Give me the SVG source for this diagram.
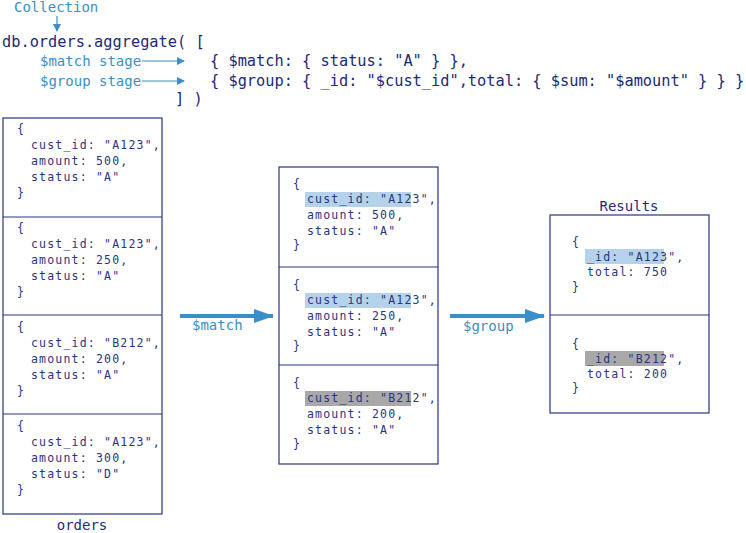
<svg xmlns="http://www.w3.org/2000/svg" width="746" height="533" viewBox="0 0 746 533">
<style>
text{font-family:"DejaVu Sans Mono","Liberation Mono",monospace}
.code{font-size:15.3px;fill:#1c2a78}
.lbl{font-size:14px;fill:#3a8fc8}
.doc{font-size:11.5px;fill:#2a3580;letter-spacing:1.2px}
.ttl{font-size:14px;fill:#1c2a78}
.box{fill:#fff;stroke:#2a3580;stroke-width:1.2}
.div{stroke:#2a3580;stroke-width:1.2}
.hl{fill:#b4d3ea}
.hg{fill:#a8a8a8}
.ar{stroke:#3a8fc8;stroke-width:1.2;fill:none}
.big{stroke:#3a8fc8;stroke-width:4;fill:none}
</style>
<defs>
<marker id="sa" markerWidth="8" markerHeight="8" refX="7" refY="4" orient="auto" markerUnits="userSpaceOnUse"><path d="M0,0 L8,4 L0,8 Z" fill="#3a8fc8"/></marker>
<marker id="ba" markerWidth="20" markerHeight="14" refX="19" refY="7" orient="auto" markerUnits="userSpaceOnUse"><path d="M0,0 L20,7 L0,14 Z" fill="#3a8fc8"/></marker>
</defs>
<g id="code">
<text class="lbl" x="14" y="12">Collection</text>
<text class="code" x="2" y="47">db.orders.aggregate( [</text>
<text class="lbl" x="40" y="66">$match stage</text>
<text class="lbl" x="40" y="86">$group stage</text>
<text class="code" x="210" y="66">{ $match: { status: "A" } },</text>
<text class="code" x="210" y="86">{ $group: { _id: "$cust_id",total: { $sum: "$amount" } } }</text>
<text class="code" x="175" y="104">] )</text>
</g>
<g id="connectors">
<line class="ar" x1="57" y1="16" x2="57" y2="31" marker-end="url(#sa)"/>
<line class="ar" x1="142" y1="61" x2="184" y2="61" marker-end="url(#sa)"/>
<line class="ar" x1="142" y1="81" x2="184" y2="81" marker-end="url(#sa)"/>
<line class="big" x1="180" y1="316" x2="273" y2="316" marker-end="url(#ba)"/>
<line class="big" x1="450" y1="316" x2="544" y2="316" marker-end="url(#ba)"/>
<text class="lbl" x="192" y="330">$match</text>
<text class="lbl" x="463" y="331">$group</text>
</g>
<g id="orders">
<rect class="box" x="3" y="118" width="159" height="396"/>
<line class="div" x1="3" y1="217" x2="162" y2="217"/>
<line class="div" x1="3" y1="315" x2="162" y2="315"/>
<line class="div" x1="3" y1="414" x2="162" y2="414"/>
<text class="doc" x="17" y="133">{</text><text class="doc" x="31" y="149">cust_id: "A123",</text><text class="doc" x="31" y="165">amount: 500,</text><text class="doc" x="31" y="181">status: "A"</text><text class="doc" x="17" y="197">}</text>
<text class="doc" x="17" y="232">{</text><text class="doc" x="31" y="248">cust_id: "A123",</text><text class="doc" x="31" y="264">amount: 250,</text><text class="doc" x="31" y="280">status: "A"</text><text class="doc" x="17" y="296">}</text>
<text class="doc" x="17" y="331">{</text><text class="doc" x="31" y="347">cust_id: "B212",</text><text class="doc" x="31" y="363">amount: 200,</text><text class="doc" x="31" y="379">status: "A"</text><text class="doc" x="17" y="395">}</text>
<text class="doc" x="17" y="430">{</text><text class="doc" x="31" y="446">cust_id: "A123",</text><text class="doc" x="31" y="462">amount: 300,</text><text class="doc" x="31" y="478">status: "D"</text><text class="doc" x="17" y="494">}</text>
<text class="ttl" x="82" y="530" text-anchor="middle">orders</text>
</g>
<g id="matched">
<rect class="box" x="279" y="167" width="159" height="297"/>
<line class="div" x1="279" y1="267" x2="438" y2="267"/>
<line class="div" x1="279" y1="365" x2="438" y2="365"/>
<rect class="hl" x="305" y="192" width="106" height="15"/>
<rect class="hl" x="305" y="293" width="106" height="15"/>
<rect class="hg" x="305" y="391" width="106" height="15"/>
<text class="doc" x="293" y="188">{</text><text class="doc" x="307" y="203">cust_id: "A123",</text><text class="doc" x="307" y="219">amount: 500,</text><text class="doc" x="307" y="235">status: "A"</text><text class="doc" x="293" y="249">}</text>
<text class="doc" x="293" y="289">{</text><text class="doc" x="307" y="304">cust_id: "A123",</text><text class="doc" x="307" y="320">amount: 250,</text><text class="doc" x="307" y="336">status: "A"</text><text class="doc" x="293" y="350">}</text>
<text class="doc" x="293" y="387">{</text><text class="doc" x="307" y="402">cust_id: "B212",</text><text class="doc" x="307" y="418">amount: 200,</text><text class="doc" x="307" y="434">status: "A"</text><text class="doc" x="293" y="448">}</text>
</g>
<g id="results">
<text class="ttl" x="629" y="211" text-anchor="middle">Results</text>
<rect class="box" x="550" y="215" width="159" height="198"/>
<line class="div" x1="550" y1="315" x2="709" y2="315"/>
<rect class="hl" x="585" y="249" width="79" height="15"/>
<rect class="hg" x="585" y="351" width="79" height="15"/>
<text class="doc" x="572" y="246">{</text><text class="doc" x="587" y="261">_id: "A123",</text><text class="doc" x="587" y="276">total: 750</text><text class="doc" x="572" y="291">}</text>
<text class="doc" x="572" y="348">{</text><text class="doc" x="587" y="363">_id: "B212",</text><text class="doc" x="587" y="378">total: 200</text><text class="doc" x="572" y="392">}</text>
</g>
</svg>
